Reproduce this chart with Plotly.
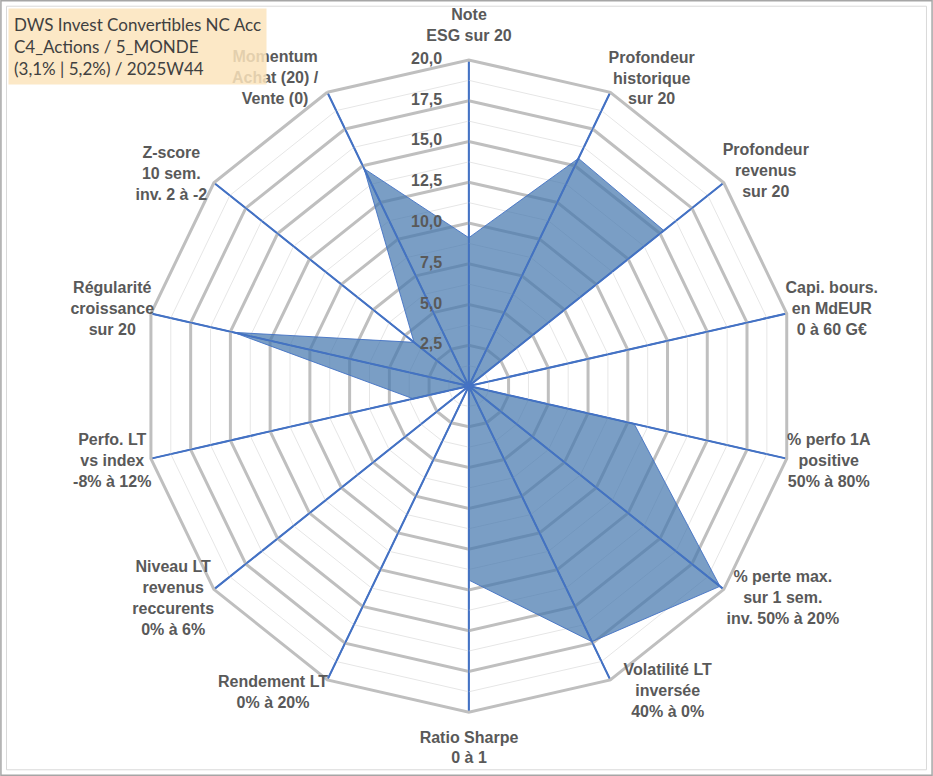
import plotly.graph_objects as go

criteres = [
    "Note<br>ESG sur 20",
    "Profondeur<br>historique<br>sur 20",
    "Profondeur<br>revenus<br>sur 20",
    "Capi. bours.<br>en MdEUR<br>0 à 60 G€",
    "% perfo 1A<br>positive<br>50% à 80%",
    "% perte max.<br>sur 1 sem.<br>inv. 50% à 20%",
    "Volatilité LT<br>inversée<br>40% à 0%",
    "Ratio Sharpe<br>0 à 1",
    "Rendement LT<br>0% à 20%",
    "Niveau LT<br>revenus<br>reccurents<br>0% à 6%",
    "Perfo. LT<br>vs index<br>-8% à 12%",
    "Régularité<br>croissance<br>sur 20",
    "Z-score<br>10 sem.<br>inv. 2 à -2",
    "Momentum<br>Achat (20) /<br>Vente (0)",
]
notes = [9.1, 15.5, 15.3, 0.0, 10.4, 19.7, 17.4, 11.9, 0.0, 0.0, 3.5, 14.8, 4.3, 14.8]

graduations = [0, 2.5, 5, 7.5, 10, 12.5, 15, 17.5, 20]
sous_graduations = [1.25, 3.75, 6.25, 8.75, 11.25, 13.75, 16.25, 18.75]

titre = ["DWS Invest Convertibles NC Acc", "C4_Actions / 5_MONDE", "(3,1% | 5,2%) / 2025W44"]

# where the criteria labels sit (like Excel, nudged around each vertex)
angle_etiquettes = [0, 30.8, 54.2, 78.2, 101.9, 124.2, 147.0, 180, 212.5, 234.2, 258.0, 282.0, 305.3, 327.7]
rayon_etiquettes = [0.985, 0.978, 1.003, 1.016, 1.008, 1.04, 1.0, 0.995, 1.0, 1.0, 1.0, 1.0, 1.0, 0.995]

fig = go.Figure()

# faint minor rings between the major gridlines
for r in sous_graduations:
    fig.add_trace(go.Scatterpolar(
        r=[r] * (len(criteres) + 1),
        theta=criteres + criteres[:1],
        mode="lines",
        line=dict(color="#E6E6E6", width=1),
        hoverinfo="skip",
        showlegend=False))

fig.add_trace(go.Scatterpolar(
    r=notes + notes[:1],
    theta=criteres + criteres[:1],
    mode="lines",
    fill="toself",
    fillcolor="rgba(70,120,175,0.72)",
    line=dict(color="rgba(68,114,196,0.9)", width=1),
    showlegend=False))

# blue spokes drawn over the filled area, as in Excel
r_rayons, theta_rayons = [], []
for c in criteres:
    r_rayons += [graduations[0], graduations[-1], None]
    theta_rayons += [c, c, None]
fig.add_trace(go.Scatterpolar(
    r=r_rayons,
    theta=theta_rayons,
    mode="lines",
    line=dict(color="#4472C4", width=1.5),
    connectgaps=False,
    hoverinfo="skip",
    showlegend=False))

# radial value labels, left of the top spoke
fig.add_trace(go.Scatterpolar(
    r=graduations,
    theta=[criteres[0]] * len(graduations),
    mode="text",
    text=["<b>" + ("%.1f" % g).replace(".", ",") + "</b>" + "&#160;" * 6 for g in graduations],
    textposition="middle left",
    textfont=dict(size=16, color="#595959"),
    cliponaxis=False,
    hoverinfo="skip",
    showlegend=False))

# criteria labels on a second, wider (invisible) polar
fig.add_trace(go.Scatterpolar(
    r=rayon_etiquettes,
    theta=angle_etiquettes,
    mode="text",
    text=["<b>" + c + "</b>" for c in criteres],
    textposition="middle center",
    textfont=dict(size=16, color="#595959"),
    cliponaxis=False,
    hoverinfo="skip",
    showlegend=False,
    subplot="polar2"))

axe_cache = dict(visible=False, showgrid=False, showline=False, showticklabels=False, ticks="")

fig.update_layout(
    width=933, height=776,
    margin=dict(l=0, r=0, t=0, b=0),
    paper_bgcolor="white",
    font=dict(family="Liberation Sans, Arial, sans-serif", size=14, color="#595959"),
    polar=dict(
        domain=dict(x=[0.153, 0.852], y=[0.082, 0.923]),
        bgcolor="white",
        gridshape="linear",
        angularaxis=dict(
            direction="clockwise",
            rotation=90,
            showticklabels=False,
            ticks="",
            showline=True,
            linecolor="#BFBFBF",
            linewidth=3,
            gridcolor="#4472C4",
            gridwidth=1.5,
        ),
        radialaxis=dict(
            range=[0, 20],
            tickvals=graduations,
            showticklabels=False,
            angle=90,
            showline=False,
            ticks="",
            gridcolor="#BFBFBF",
            gridwidth=3,
        ),
    ),
    polar2=dict(
        domain=dict(x=[0.0922, 0.9132], y=[0.009, 0.9961]),
        bgcolor="rgba(0,0,0,0)",
        angularaxis=dict(direction="clockwise", rotation=90, thetaunit="degrees", **axe_cache),
        radialaxis=dict(range=[0, 1.05], **axe_cache),
    ),
    shapes=[
        dict(type="rect", xref="paper", yref="paper", x0=0.001, y0=0.001, x1=0.999, y1=0.999,
             line=dict(color="#A6A6A6", width=1.5)),
        dict(type="rect", xref="paper", yref="paper", x0=0.007, y0=0.008, x1=0.993, y1=0.992,
             line=dict(color="#D9D9D9", width=1)),
    ],
    annotations=[dict(
        xref="paper", yref="paper", x=0.009, y=0.99, xanchor="left", yanchor="top",
        text="<br>".join(titre),
        align="left", showarrow=False,
        font=dict(family="Lato, Open Sans, sans-serif", size=17, color="#404040"),
        bgcolor="rgba(252,228,188,0.85)",
        borderpad=5,
    )],
)

fig.write_html("out.html", config={"displayModeBar": False},
               post_script="document.body.style.margin='0';")
